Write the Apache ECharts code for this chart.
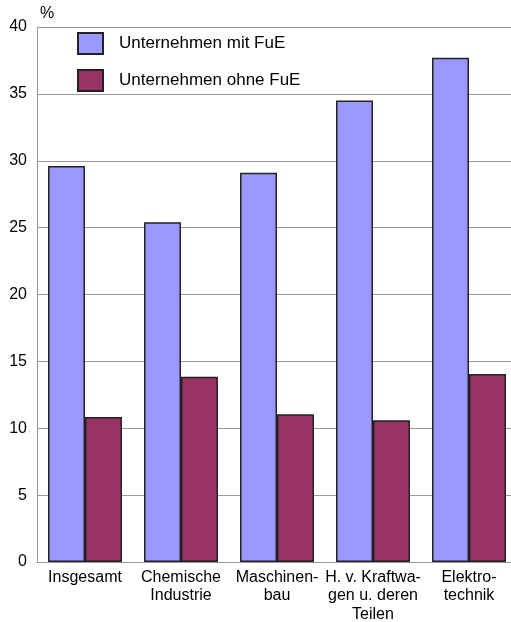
<!DOCTYPE html>
<html><head><meta charset="utf-8">
<script src="https://cdn.jsdelivr.net/npm/echarts@6/dist/echarts.min.js"></script>
<style>html,body{margin:0;padding:0;background:#fff}#c{width:511px;height:622px}</style>
</head><body><div id="c"></div>
<script>
const categories = ['Insgesamt', 'Chemische\nIndustrie', 'Maschinen-\nbau', 'H. v. Kraftwa-\ngen u. deren\nTeilen', 'Elektro-\ntechnik'];
const mitFuE = [29.6, 25.4, 29.1, 34.5, 37.7];
const ohneFuE = [10.85, 13.85, 11.05, 10.6, 14.05];
const yTicks = [0, 5, 10, 15, 20, 25, 30, 35, 40];
const seriesNames = ['Unternehmen mit FuE', 'Unternehmen ohne FuE'];

const chart = echarts.init(document.getElementById('c'));
const font = 'Liberation Sans, Arial, sans-serif';
chart.setOption({
  animation: false,
  grid: {left: 37, top: 27, width: 480, height: 535, containLabel: false, outerBoundsMode: 'none'},
  legend: {
    orient: 'vertical', left: 72, top: 27, itemWidth: 25, itemHeight: 21, itemGap: 14,
    icon: 'rect',
    textStyle: {fontFamily: font, fontSize: 17, color: '#000', padding: [0,0,0,11]},
    data: seriesNames
  },
  xAxis: {
    type: 'category', data: categories,
    axisLine: {lineStyle: {color: '#999'}},
    axisTick: {show: false},
    axisLabel: {fontFamily: font, fontSize: 16, color: '#000', lineHeight: 18.5, margin: 6, interval: 0}
  },
  yAxis: {
    type: 'value', min: 0, max: 40, interval: 5,
    name: '%', nameLocation: 'end', nameGap: 5,
    nameTextStyle: {fontFamily: font, fontSize: 16, color: '#000', align: 'left', padding: [0,0,0,3]},
    axisLine: {show: true, lineStyle: {color: '#999'}},
    axisTick: {show: false},
    splitLine: {lineStyle: {color: '#999'}},
    axisLabel: {fontFamily: font, fontSize: 16, color: '#000', margin: 10,
      formatter: v => yTicks.includes(v) ? String(v) : ''}
  },
  series: [
    {name: seriesNames[0], type: 'bar', data: mitFuE, barGap: '0%', barCategoryGap: '23%',
      itemStyle: {color: '#9999FF', borderColor: '#222', borderWidth: 1.5}},
    {name: seriesNames[1], type: 'bar', data: ohneFuE,
      itemStyle: {color: '#993366', borderColor: '#222', borderWidth: 1.5}}
  ]
});
</script></body></html>
